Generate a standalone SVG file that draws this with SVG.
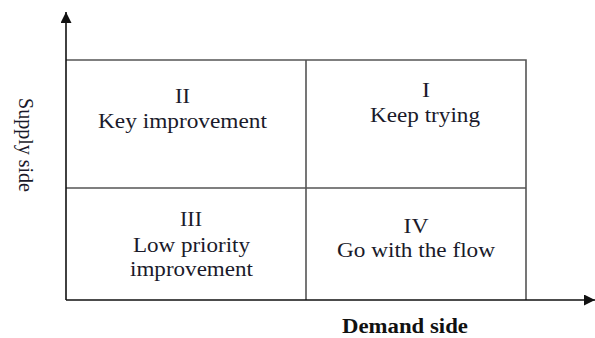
<svg xmlns="http://www.w3.org/2000/svg" width="595" height="338" viewBox="0 0 595 338">
<defs>
<style>
.t{font-family:"Liberation Serif","Times New Roman",serif;font-size:20.5px;fill:#1a1a2a;text-anchor:middle}
.b{font-weight:bold;fill:#111}
.grid{fill:none;stroke:#555;stroke-width:1.6}
.axis{fill:none;stroke:#111;stroke-width:1.6}
</style>
<marker id="ah" viewBox="0 0 10 10" refX="10" refY="5" markerWidth="11" markerHeight="11" markerUnits="userSpaceOnUse" orient="auto">
<path d="M0,0 L10,5 L0,10 z" fill="#111"/>
</marker>
</defs>
<rect width="595" height="338" fill="#fff"/>
<g id="connectors">
<path class="grid" d="M66,60 H526 V300 M306,60 V300 M66,188 H526"/>
<path class="axis" d="M66,300 V12" marker-end="url(#ah)"/>
<path class="axis" d="M66,300 H595" marker-end="url(#ah)"/>
</g>
<g id="q2">
<text class="t" x="182.5" y="103" textLength="15" lengthAdjust="spacingAndGlyphs">II</text>
<text class="t" x="182.5" y="128" textLength="169" lengthAdjust="spacingAndGlyphs">Key improvement</text>
</g>
<g id="q1">
<text class="t" x="426" y="97" textLength="8" lengthAdjust="spacingAndGlyphs">I</text>
<text class="t" x="425" y="122" textLength="110" lengthAdjust="spacingAndGlyphs">Keep trying</text>
</g>
<g id="q3">
<text class="t" x="191" y="226" textLength="22" lengthAdjust="spacingAndGlyphs">III</text>
<text class="t" x="191.5" y="251.5" textLength="117" lengthAdjust="spacingAndGlyphs">Low priority</text>
<text class="t" x="191.5" y="276" textLength="123" lengthAdjust="spacingAndGlyphs">improvement</text>
</g>
<g id="q4">
<text class="t" x="416" y="233" textLength="25" lengthAdjust="spacingAndGlyphs">IV</text>
<text class="t" x="416" y="257" textLength="158" lengthAdjust="spacingAndGlyphs">Go with the flow</text>
</g>
<g id="demand">
<text class="t b" x="405" y="333" textLength="126" lengthAdjust="spacingAndGlyphs">Demand side</text>
</g>
<g id="supply">
<text class="t" transform="translate(19,145) rotate(90)" x="0" y="0" textLength="94" lengthAdjust="spacingAndGlyphs">Supply side</text>
</g>
</svg>
